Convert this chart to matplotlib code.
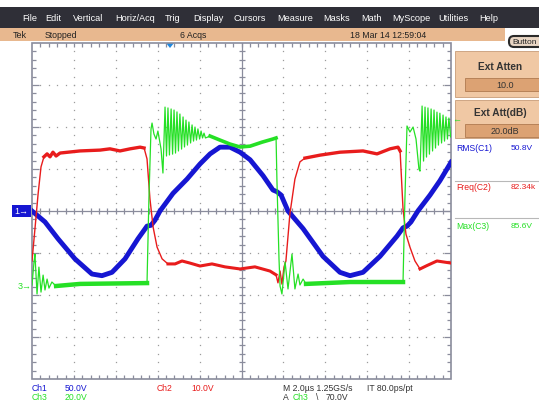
import matplotlib
matplotlib.use("Agg")
import matplotlib.pyplot as plt
from matplotlib.patches import Rectangle, FancyBboxPatch, Polygon
from matplotlib.collections import LineCollection
import numpy as np

plt.rcParams['font.family'] = ['Liberation Sans', 'DejaVu Sans']

# ---- readings: time in us, volts ----
ch1_t = [0.00, 0.62, 1.24, 2.05, 2.86, 3.34, 3.82, 4.44, 5.06, 5.49,
         5.68, 5.87, 6.11, 6.73, 7.40, 8.02, 8.50, 8.97, 9.45, 9.93,
         10.41, 11.03, 11.50, 11.69, 11.89, 12.22, 12.94, 13.89, 14.70, 15.18,
         15.80, 16.61, 17.42, 17.71, 17.90, 18.09, 18.42, 19.00, 19.47, 20.00]
ch1_v = [0, -13, -33, -57, -75, -77, -73, -57, -33, -18,
         -17, -11, 0, 21, 38, 56, 68, 76, 76, 70,
         61, 42, 25, 23, 19, 0, -21, -54, -73, -77,
         -73, -54, -30, -20, -18, -13, 0, 19, 36, 58]

ch2_t = [0.00, 0.14, 0.29, 0.43, 0.57, 0.72, 0.86, 1.00, 1.15, 1.34,
         2.29, 3.25, 3.72, 4.20, 4.68, 5.16, 5.35, 5.49, 5.63, 5.78,
         5.97, 6.21, 6.49, 6.83, 7.16, 7.54, 8.02, 8.59, 9.21, 9.93,
         10.64, 11.36, 11.65, 11.74, 11.84, 11.93, 12.03, 12.12, 12.31, 12.55,
         12.79, 13.03, 13.75, 14.70, 15.80, 16.47, 17.09, 17.47, 17.57, 17.71,
         17.85, 18.04, 18.28, 18.52, 18.85, 19.33, 20.00]
ch2_v = [1.1, 8.7, 17.0, 23.5, 25.9, 26.6, 25.9, 27.0, 26.1, 26.8,
         27.3, 27.5, 27.8, 27.3, 27.8, 28.2, 28.0, 25.4, 15.9, 9.2,
         4.4, 1.6, 0.4, 0.4, 1.1, 0.6, -0.1, 0.4, -0.3, -0.8,
         -0.3, -1.3, -2.2, -4.1, -1.3, -4.4, -0.3, 1.1, 12.3, 20.6,
         24.7, 25.6, 26.3, 27.0, 27.3, 26.6, 27.8, 28.2, 27.3, 13.5,
         7.5, 4.4, 1.1, -0.8, 0.0, 1.1, 0.6]

ch3_t = [0.00, 0.10, 0.14, 0.24, 0.33, 0.43, 0.53, 0.62, 0.72, 0.81, 0.95, 1.15,
         2.29, 5.49, 5.58, 5.68, 5.73, 5.82, 5.92, 6.01, 6.16, 6.25,
         6.35, 6.42, 6.49, 6.56, 6.64, 6.71, 6.78, 6.85, 6.92, 6.99, 7.06, 7.14,
         7.21, 7.28, 7.35, 7.42, 7.49, 7.57, 7.64, 7.71, 7.78, 7.85, 7.92, 8.00,
         8.07, 8.14, 8.21, 8.28,
         8.50, 8.97, 9.45, 9.93, 10.41, 10.98, 11.50, 11.65, 11.69, 11.79,
         11.84, 11.93, 12.08, 12.22, 12.41, 12.55, 12.70, 12.79, 12.94, 13.08,
         15.18, 17.71, 17.80, 17.90, 18.04, 18.19, 18.33, 18.47, 18.52,
         18.62, 18.69, 18.76, 18.83, 18.90, 18.97, 19.05, 19.12, 19.19, 19.26,
         19.33, 19.40, 19.47, 19.55, 19.62, 19.69, 19.76, 19.83, 19.90, 19.98]
ch3_v = [0.5, 11.9, 15.2, -3.8, 9.0, -2.9, 5.2, -1.9, 3.3, -1.0, 1.9, 0.0,
         1.0, 1.4, 41.4, 74.7, 77.6, 72.4, 70.0, 73.8, 65.2, 53.8,
         85.2, 61.9, 84.8, 62.4, 84.3, 62.8, 83.8, 63.3, 82.9, 64.3, 81.9, 65.2,
         80.5, 66.2, 79.0, 67.1, 78.1, 68.1, 76.7, 69.0, 75.7, 69.5, 74.8, 70.0,
         73.8, 70.5, 72.8, 70.5,
         71.4, 69.5, 67.6, 66.2, 66.6, 68.5, 70.0, 70.5, 50.9, 12.9,
         0.0, -3.8, 11.4, -1.4, 15.2, -1.4, 5.7, 0.5, 3.3, 1.0,
         1.9, 1.9, 41.4, 76.2, 73.3, 75.7, 70.0, 55.7, 54.7,
         85.7, 59.5, 85.2, 61.4, 84.8, 62.8, 84.3, 64.3, 83.8, 65.7,
         82.8, 67.1, 82.3, 68.1, 81.4, 69.0, 80.5, 70.0, 80.0, 71.0]

# volts/div and screen position (div) of each channel
ch1_scale, ch1_pos = 50.0, 0.0
ch2_scale, ch2_pos = 10.0, -1.3
ch3_scale, ch3_pos = 20.0, -1.786

menu_items = ["File", "Edit", "Vertical", "Horiz/Acq", "Trig", "Display", "Cursors",
              "Measure", "Masks", "Math", "MyScope", "Utilities", "Help"]
menu_x = [22, 45, 73, 115, 165, 193, 233, 277, 323, 361, 392, 438, 479]

meas_labels = ["RMS(C1)", "Freq(C2)", "Max(C3)"]
meas_values = ["50.8V", "82.34k", "85.6V"]
meas_y = [149, 188, 227]

BLUE, RED, GREEN = '#1616d2', '#e81c1c', '#25e025'
GRID = '#8a8c9c'

W, H = 539, 402
fig = plt.figure(figsize=(W / 100, H / 100), dpi=100)
bg = fig.add_axes([0, 0, 1, 1])
bg.set_xlim(0, W)
bg.set_ylim(H, 0)
bg.axis('off')

# menu bar + status bar
bg.add_patch(Rectangle((0, 8), W, 21, fc='#2f2f37', ec='none'))
for name, x in zip(menu_items, menu_x):
    bg.text(x, 18.5, name, color='white', fontsize=6.6, va='center')
bg.add_patch(Rectangle((0, 29), 505, 13, fc='#e8b88f', ec='none'))
bg.text(13, 35.5, "Tek", fontsize=6.5, va='center', color='#222222')
bg.text(45, 35.5, "Stopped", fontsize=6.3, va='center', color='#222222')
bg.text(180, 35.5, "6 Acqs", fontsize=6.3, va='center', color='#222222')
bg.text(350, 35.5, "18 Mar 14 12:59:04", fontsize=6.3, va='center', color='#222222')
bg.add_patch(FancyBboxPatch((509, 37), 40, 11, boxstyle="round,pad=0,rounding_size=5",
                            fc='#e9d6c4', ec='#2a2a2a', lw=1.5))
bg.text(512, 42.5, "Button", fontsize=6.0, va='center', color='#222222')

# right panels
for y0, h, title, val, iy in [(52, 46, "Ext Atten", "10.0", 79), (101, 38, "Ext Att(dB)", "20.0dB", 125)]:
    bg.add_patch(Rectangle((455, y0), 90, h, fc='#f0c8a4', ec='#c89c78', lw=0.6))
    bg.text(500, y0 + 15 if h > 40 else y0 + 12, title, fontsize=7.3, fontweight='bold',
            ha='center', va='center', color='#333333')
    bg.add_patch(Rectangle((465, iy), 80, 13, fc='#dca273', ec='#b07a50', lw=0.6))
    bg.text(505, iy + 6.5, val, fontsize=6.5, ha='center', va='center', color='#333333')

for lab, val, y, c in zip(meas_labels, meas_values, meas_y, [BLUE, RED, GREEN]):
    bg.text(456, y, lab, fontsize=6.2, va='center', color=c)
    bg.text(511, y, val, fontsize=6.0, va='center', color=c)
for y in [182, 219]:
    bg.plot([455, W], [y, y], color='#b8b8b8', lw=0.8)

# channel markers on the left
bg.add_patch(Rectangle((12, 206), 19, 12, fc=BLUE, ec='none'))
bg.text(14, 212, "1\u2192", color='white', fontsize=6.5, va='center')
bg.text(18, 287, "3\u2192", color=GREEN, fontsize=6.5, va='center')
bg.add_patch(Polygon([[166, 44], [174, 44], [170, 49]], closed=True, fc='#1e88e0', ec='none'))
bg.text(452, 120, "\u2190", color=GREEN, fontsize=6.5, va='center')

# bottom readouts
bot = [("Ch1", 32, 389, BLUE), ("50.0V", 65, 389, BLUE), ("Ch2", 157, 389, RED),
       ("10.0V", 191, 389, RED), ("M 2.0\u00b5s 1.25GS/s", 283, 389, '#333333'),
       ("IT 80.0ps/pt", 367, 389, '#333333'), ("Ch3", 32, 397.5, GREEN),
       ("20.0V", 65, 397.5, GREEN), ("A", 283, 397.5, '#333333'), ("Ch3", 293, 397.5, GREEN),
       ("\\", 316, 397.5, '#333333'), ("70.0V", 326, 397.5, '#333333')]
for s, x, y, c in bot:
    bg.text(x, y, s, fontsize=6.2, va='center', color=c)

# ---- scope screen ----
L, R, T, B = 32, 451, 44, 380
ax = fig.add_axes([L / W, 1 - B / H, (R - L) / W, (B - T) / H])
ax.set_xlim(0, 20)
ax.set_ylim(-4, 4)
ax.axis('off')
px = 20 / (R - L)
py = 8 / (B - T)

minor_x = np.arange(0.4, 20, 0.4)
minor_y = np.arange(-3.8, 4, 0.2)
for gx in [2, 4, 6, 8, 12, 14, 16, 18]:
    ax.plot(np.full(len(minor_y), gx), minor_y, ls='none', marker='s', ms=0.9,
            mec='none', mfc='#9c9c9c')
for gy in [-3, -2, -1, 1, 2, 3]:
    ax.plot(minor_x, np.full(len(minor_x), gy), ls='none', marker='s', ms=0.9,
            mec='none', mfc='#9c9c9c')

ax.add_patch(Rectangle((0, -4), 20, 8, fill=False, ec=GRID, lw=1.2, clip_on=False))
ax.plot([10, 10], [-4, 4], color=GRID, lw=0.9)
ax.plot([0, 20], [0, 0], color=GRID, lw=0.9)
segs = []
for x in minor_x:
    segs.append([(x, -3 * py), (x, 3 * py)])
    segs.append([(x, 4), (x, 4 - 4 * py)])
    segs.append([(x, -4), (x, -4 + 4 * py)])
for y in minor_y:
    segs.append([(10 - 3 * px, y), (10 + 3 * px, y)])
    ln = 7 if abs(y - round(y)) < 1e-6 else 4
    segs.append([(0, y), (ln * px, y)])
    segs.append([(20, y), (20 - ln * px, y)])
ax.add_collection(LineCollection(segs, colors=GRID, linewidths=0.9))

t1, t2, t3 = np.array(ch1_t), np.array(ch2_t), np.array(ch3_t)
y1 = np.array(ch1_v) / ch1_scale + ch1_pos
y2 = np.array(ch2_v) / ch2_scale + ch2_pos
y3 = np.array(ch3_v) / ch3_scale + ch3_pos

ax.plot(t1, y1, color=BLUE, lw=3.5, solid_joinstyle='round')

ax.plot(t2, y2, color=RED, lw=1.0)
for lo, hi, w in [(0.55, 5.4, 2.4), (12.9, 17.6, 2.4), (6.3, 11.7, 2.2), (18.3, 20, 2.2)]:
    m = (t2 >= lo) & (t2 <= hi)
    ax.plot(t2[m], y2[m], color=RED, lw=w)

ax.plot(t3, y3, color=GREEN, lw=0.9)
for lo, hi, w in [(1.0, 5.5, 3.2), (13.0, 17.72, 3.2), (8.3, 11.66, 2.6)]:
    m = (t3 >= lo) & (t3 <= hi)
    ax.plot(t3[m], y3[m], color=GREEN, lw=w)

fig.savefig("out.png", dpi=100)
